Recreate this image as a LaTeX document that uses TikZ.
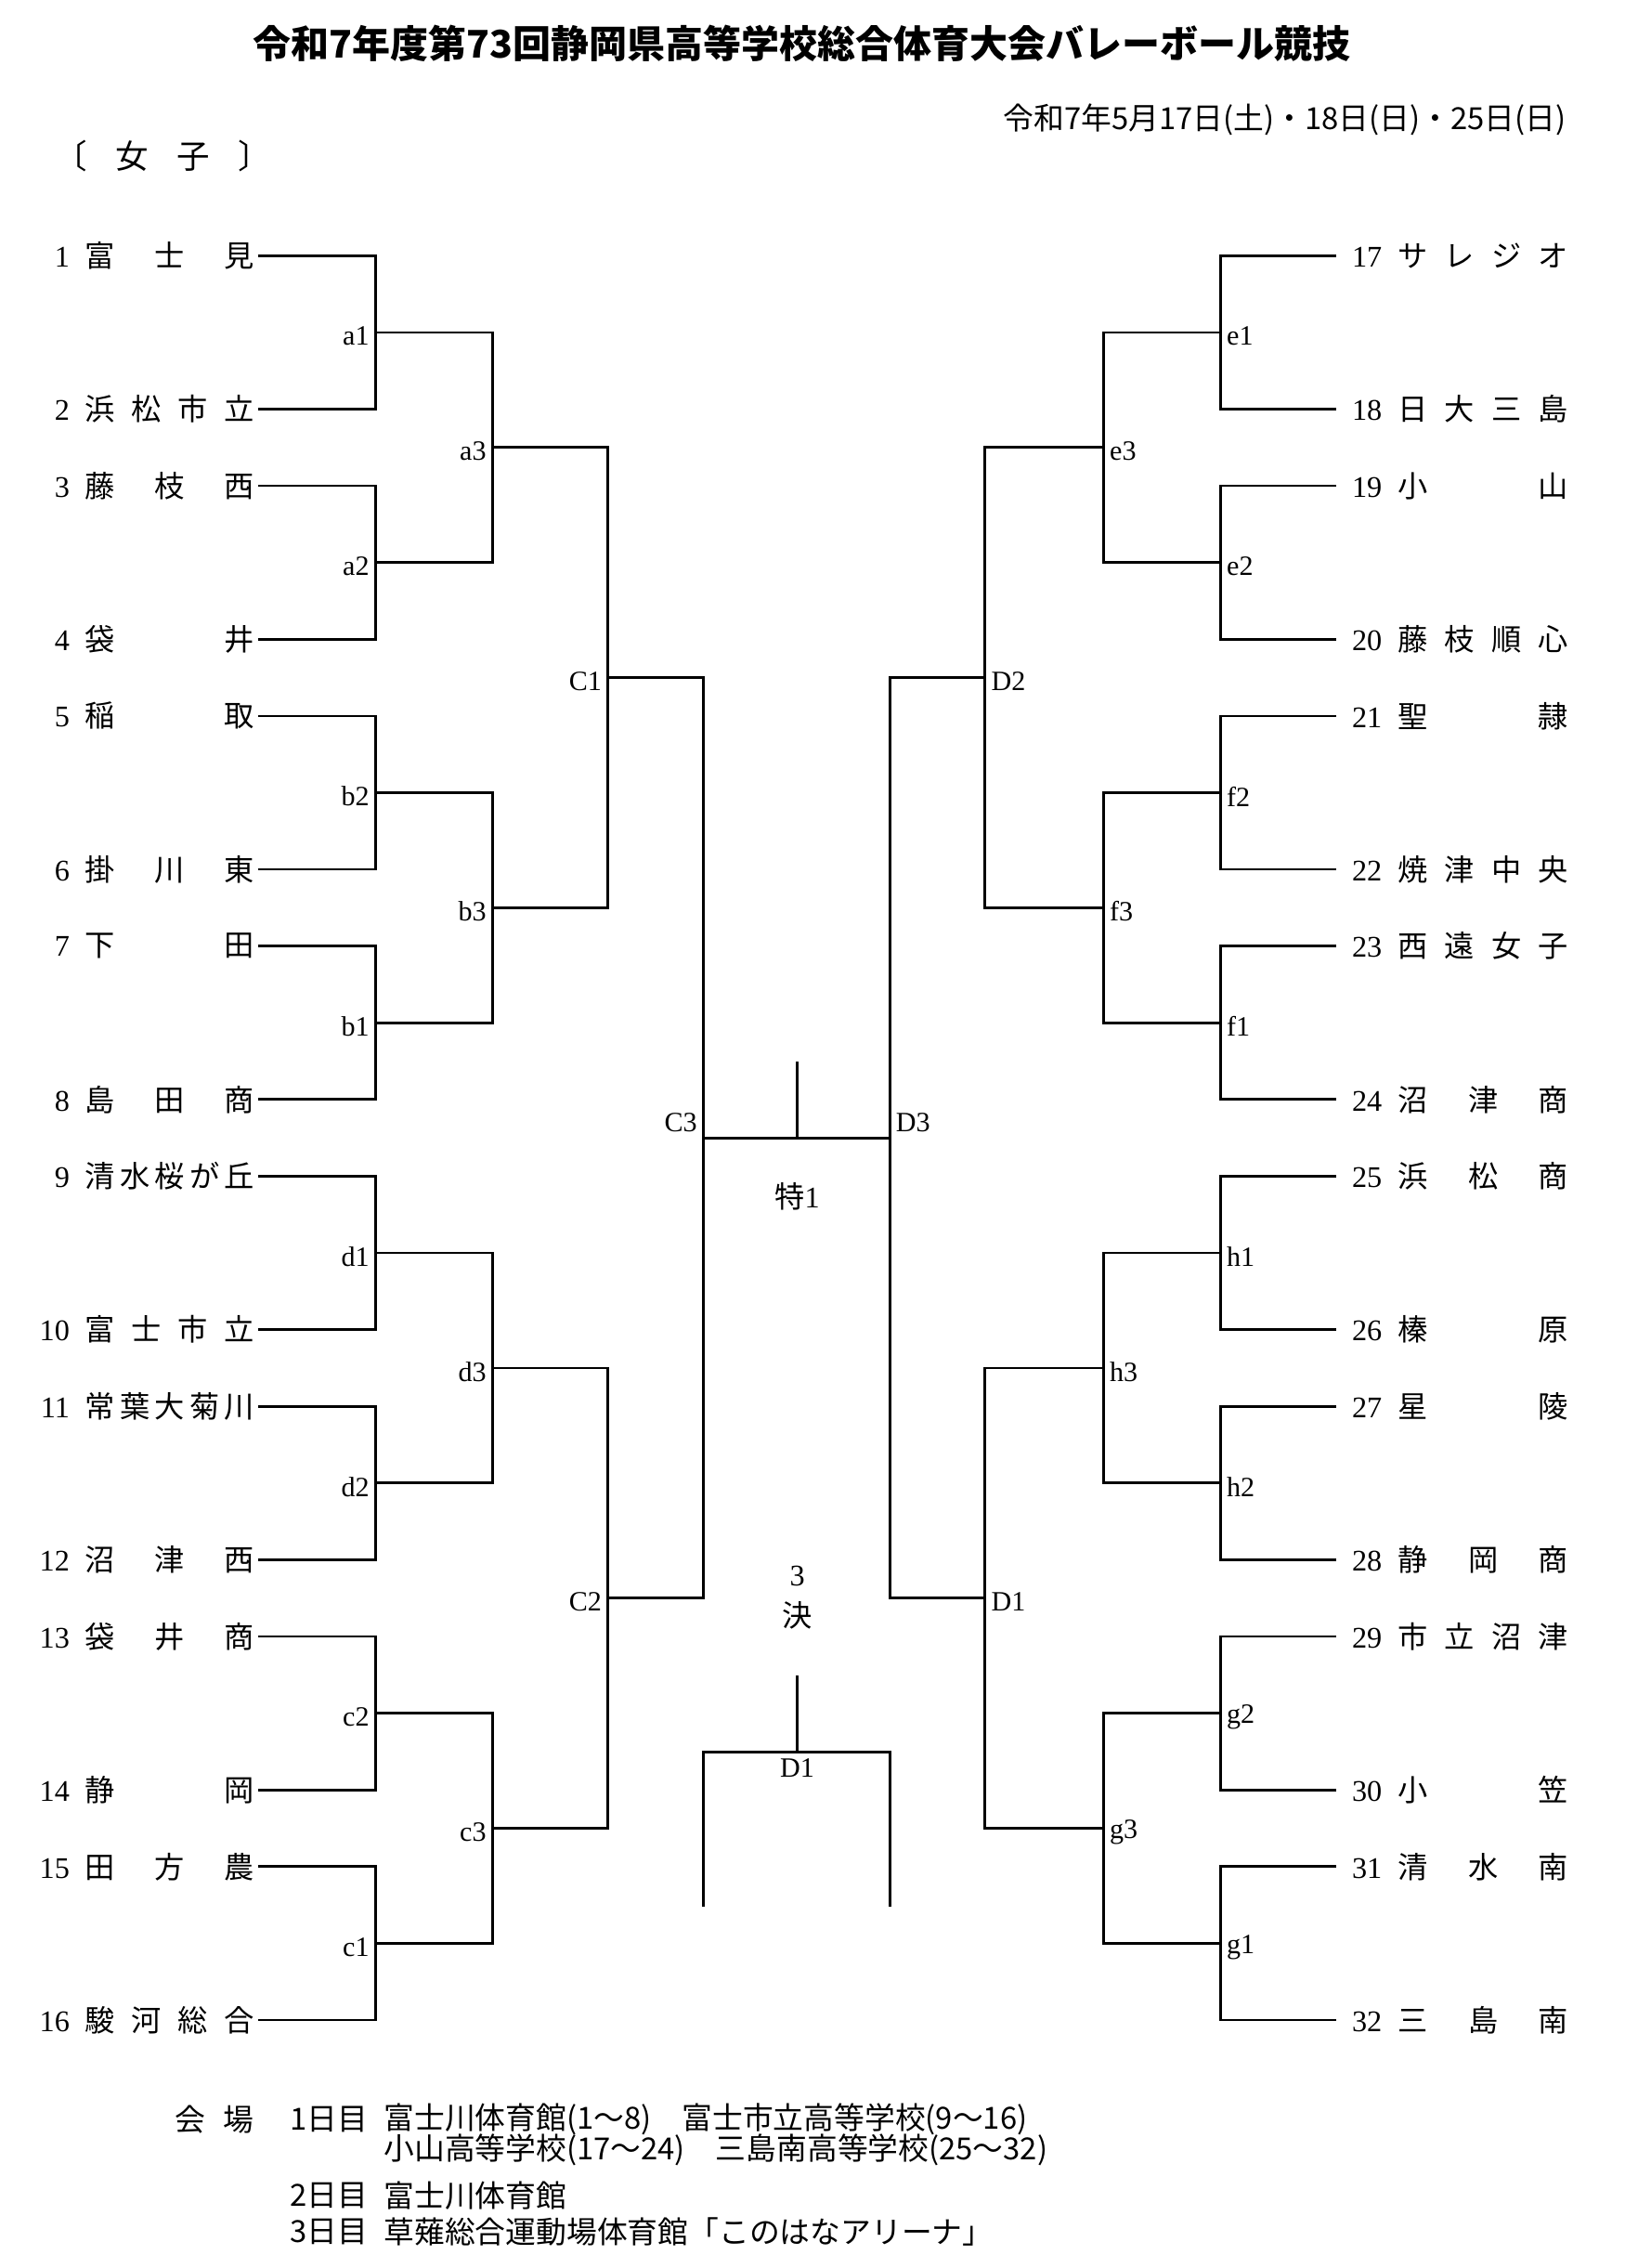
\documentclass[tikz,border=0pt]{standalone}
\usepackage{fontspec}
\setmainfont{Liberation Serif}
\newfontfamily\jp{Noto Sans CJK JP}
\usetikzlibrary{calc}
\newcommand{\lteam}[2]{\makebox[0.5cm][r]{#1}\hspace{0.22cm}{\jp\makebox[2.34cm]{#2}}}
\newcommand{\rteam}[2]{\makebox[0.58cm][r]{#1}\hspace{0.22cm}{\jp\makebox[2.36cm]{#2}}}

\begin{document}
\begin{tikzpicture}[x=0.02cm,y=-0.02cm,line width=1pt,
    team/.style={inner xsep=0.04cm,inner ysep=0pt,font=\fontsize{11.8}{13}\selectfont},
    lbl/.style={inner sep=2pt,font=\fontsize{11}{12}\selectfont},
    txt/.style={inner sep=0pt,font=\jp\fontsize{12}{14}\selectfont}]
\useasboundingbox (0,0) rectangle (1125,1570);

\node[txt,font=\jp\bfseries\fontsize{15}{18}\selectfont] (title) at (555,30) {令和7年度第73回静岡県高等学校総合体育大会バレーボール競技};
\node[txt,anchor=east] (date) at (1085,83) {令和7年5月17日(土)・18日(日)・25日(日)};
\node[txt,anchor=west,font=\jp\fontsize{13}{15}\selectfont] (cat) at (37,108) {\makebox[3.0cm]{〔\hfill 女\hfill 子\hfill 〕}};

\foreach \n/\name [count=\i from 0] in {1/{富\hfill 士\hfill 見},2/{浜\hfill 松\hfill 市\hfill 立},3/{藤\hfill 枝\hfill 西},4/{袋\hfill 井},
    5/{稲\hfill 取},6/{掛\hfill 川\hfill 東},7/{下\hfill 田},8/{島\hfill 田\hfill 商},
    9/{清\hfill 水\hfill 桜\hfill が\hfill 丘},10/{富\hfill 士\hfill 市\hfill 立},11/{常\hfill 葉\hfill 大\hfill 菊\hfill 川},12/{沼\hfill 津\hfill 西},
    13/{袋\hfill 井\hfill 商},14/{静\hfill 岡},15/{田\hfill 方\hfill 農},16/{駿\hfill 河\hfill 総\hfill 合}}
  \node[team,anchor=east] (t\n) at (179,{177+53.1*(3*int(\i/2)+2*mod(\i,2))}) {\lteam{\n}{\name}};
\foreach \n/\name [count=\i from 0] in {17/{サ\hfill レ\hfill ジ\hfill オ},18/{日\hfill 大\hfill 三\hfill 島},19/{小\hfill 山},20/{藤\hfill 枝\hfill 順\hfill 心},
    21/{聖\hfill 隷},22/{焼\hfill 津\hfill 中\hfill 央},23/{西\hfill 遠\hfill 女\hfill 子},24/{沼\hfill 津\hfill 商},
    25/{浜\hfill 松\hfill 商},26/{榛\hfill 原},27/{星\hfill 陵},28/{静\hfill 岡\hfill 商},
    29/{市\hfill 立\hfill 沼\hfill 津},30/{小\hfill 笠},31/{清\hfill 水\hfill 南},32/{三\hfill 島\hfill 南}}
  \node[team,anchor=west] (t\n) at (925,{177+53.1*(3*int(\i/2)+2*mod(\i,2))}) {\rteam{\n}{\name}};

\foreach \m/\y in {a1/230.1,a2/389.4,b2/548.7,b1/708,d1/867.3,d2/1026.6,c2/1185.9,c1/1345.2}
  \coordinate (\m) at (260,\y);
\foreach \m/\y in {e1/230.1,e2/389.4,f2/548.7,f1/708,h1/867.3,h2/1026.6,g2/1185.9,g1/1345.2}
  \coordinate (\m) at (845,\y);
\foreach \m/\y in {a3/309.75,b3/628.35,d3/946.95,c3/1265.55}
  \coordinate (\m) at (341,\y);
\foreach \m/\y in {e3/309.75,f3/628.35,h3/946.95,g3/1265.55}
  \coordinate (\m) at (764,\y);
\coordinate (C1) at (421,469.05);
\coordinate (C2) at (421,1106.25);
\coordinate (D2) at (682,469.05);
\coordinate (D1) at (682,1106.25);
\coordinate (C3) at (487,787.65);
\coordinate (D3) at (616,787.65);
\coordinate (fin) at (552,787.65);
\coordinate (fintop) at (552,735);

\foreach \u/\m/\v in {t1/a1/t2,t3/a2/t4,t5/b2/t6,t7/b1/t8,t9/d1/t10,t11/d2/t12,t13/c2/t14,t15/c1/t16}
  \draw (\u.east) -| (\m) |- (\v.east);
\foreach \u/\m/\v in {t17/e1/t18,t19/e2/t20,t21/f2/t22,t23/f1/t24,t25/h1/t26,t27/h2/t28,t29/g2/t30,t31/g1/t32}
  \draw (\u.west) -| (\m) |- (\v.west);
\foreach \u/\m/\v in {a1/a3/a2,b2/b3/b1,d1/d3/d2,c2/c3/c1,a3/C1/b3,d3/C2/c3,C1/C3/C2,
    e1/e3/e2,f2/f3/f1,h1/h3/h2,g2/g3/g1,e3/D2/f3,h3/D1/g3,D2/D3/D1}
  \draw (\u) -| (\m) |- (\v);
\draw (C3) -- (D3);
\draw (fin) -- (fintop);

\foreach \m in {a1,a2,b2,b1,d1,d2,c2,c1,a3,b3,d3,c3,C1,C2}
  \node[lbl,anchor=east,yshift=-1.5pt] (l\m) at (\m) {\m};
\foreach \m in {e1,e2,f2,f1,h1,h2,g2,g1,e3,f3,h3,g3,D2,D1}
  \node[lbl,anchor=west,yshift=-1.5pt] (l\m) at (\m) {\m};
\node[lbl,anchor=south east] (lC3) at (C3) {C3};
\node[lbl,anchor=south west] (lD3) at (D3) {D3};
\node[team] (sp1) at (552,828) {{\jp 特}1};

\node[team,align=center,font=\fontsize{11.8}{16}\selectfont] (third) at (552,1106) {3\\{\jp 決}};
\coordinate (thtop) at (552,1160);
\coordinate (thmid) at (552,1213);
\coordinate (thl) at (487,1320);
\coordinate (thr) at (616,1320);
\draw (thtop) -- (thmid);
\draw (thl) |- (thmid) -| (thr);
\node[lbl,anchor=north] (lth) at (thmid) {D1};

\node[txt,anchor=west] (venue) at (120,1467) {\makebox[1.1cm]{会\hfill 場}};
\node[txt,anchor=west] (day1) at (200,1467) {1日目};
\node[txt,anchor=west] (v1) at (265,1467) {富士川体育館(1～8)　富士市立高等学校(9～16)};
\node[txt,anchor=west] (v2) at (265,1488) {小山高等学校(17～24)　三島南高等学校(25～32)};
\node[txt,anchor=west] (day2) at (200,1520) {2日目};
\node[txt,anchor=west] (v3) at (265,1520) {富士川体育館};
\node[txt,anchor=west] (day3) at (200,1545) {3日目};
\node[txt,anchor=west] (v4) at (265,1545) {草薙総合運動場体育館「このはなアリーナ」};
\end{tikzpicture}
\end{document}
